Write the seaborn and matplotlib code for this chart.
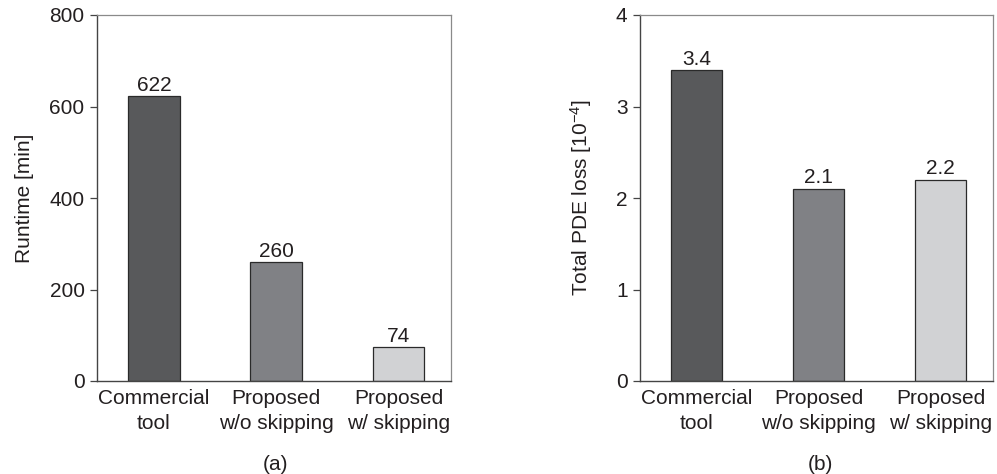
import matplotlib
matplotlib.use('Agg')
import matplotlib.pyplot as plt
import seaborn as sns
import pandas as pd

# data
categories = ["Commercial\ntool", "Proposed\nw/o skipping", "Proposed\nw/ skipping"]
runtime_min = [622, 260, 74]
pde_loss = [3.4, 2.1, 2.2]
runtime_labels = ["622", "260", "74"]
loss_labels = ["3.4", "2.1", "2.2"]
bar_colors = ["#58595b", "#808185", "#d1d2d4"]

sns.set_theme(style="white")
plt.rcParams['font.family'] = ['Liberation Sans', 'DejaVu Sans']
plt.rcParams['mathtext.fontset'] = 'custom'
plt.rcParams['mathtext.rm'] = 'Liberation Sans'
plt.rcParams['mathtext.it'] = 'Liberation Sans'

text_col = "#231f20"
fs = 15

fig = plt.figure(figsize=(9.97, 4.74), dpi=100)
ax_a = fig.add_axes([97/997, 93/474, 354/997, 366/474])
ax_b = fig.add_axes([640/997, 93/474, 353/997, 366/474])


def draw_panel(ax, values, labels, ylim, yticks, ylabel, labelpad):
    df = pd.DataFrame({"cat": categories, "val": values})
    sns.barplot(data=df, x="cat", y="val", hue="cat", palette=bar_colors,
                legend=False, width=0.42, edgecolor="#2a2a2a", linewidth=0.9,
                saturation=1, ax=ax)
    for cont, lab in zip(ax.containers, labels):
        ax.bar_label(cont, labels=[lab], padding=1, fontsize=fs, color=text_col)
    ax.set_xlim(-0.465, 2.43)
    ax.set_ylim(*ylim)
    ax.set_yticks(yticks)
    ax.set_xlabel("")
    ax.set_ylabel(ylabel, fontsize=fs, color=text_col, labelpad=labelpad)
    ax.tick_params(axis="y", which="both", left=True, direction="out", length=5,
                   width=0.9, color="#444444", labelsize=fs, labelcolor=text_col, pad=4)
    ax.tick_params(axis="x", bottom=False, length=0, labelsize=fs,
                   labelcolor=text_col, pad=6)
    for lbl in ax.get_xticklabels():
        lbl.set_linespacing(1.4)
    for side in ["left", "bottom"]:
        ax.spines[side].set_color("#444444")
        ax.spines[side].set_linewidth(1.0)
    for side in ["top", "right"]:
        ax.spines[side].set_color("#8a8a8a")
        ax.spines[side].set_linewidth(0.9)


draw_panel(ax_a, runtime_min, runtime_labels, (0, 800), [0, 200, 400, 600, 800],
           "Runtime [min]", 11)
draw_panel(ax_b, pde_loss, loss_labels, (0, 4), [0, 1, 2, 3, 4],
           r"Total PDE loss [10$^{\mathrm{-}4}$]", 16)

fig.text(275/997, 1 - 465/474, "(a)", ha="center", va="center", fontsize=fs, color=text_col)
fig.text(820/997, 1 - 465/474, "(b)", ha="center", va="center", fontsize=fs, color=text_col)

fig.savefig("out.png", dpi=100)
